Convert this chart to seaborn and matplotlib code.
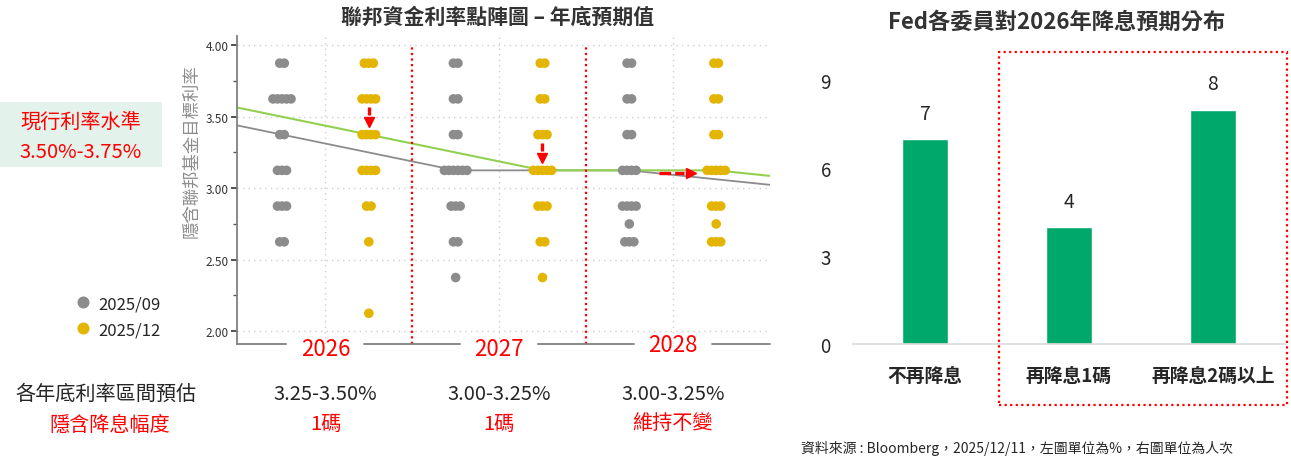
import matplotlib.pyplot as plt
import matplotlib.transforms as mtransforms
from matplotlib.patches import Rectangle
import numpy as np
import pandas as pd
import seaborn as sns

# ---- data -------------------------------------------------------------
RATES = [3.875, 3.625, 3.375, 3.125, 2.875, 2.75, 2.625, 2.375, 2.125]
YEARS = ["2026", "2027", "2028"]
RELEASES = ["2025/09", "2025/12"]

# dots per rate level (same order as RATES)
SEP_2026 = [2, 5, 2, 3, 3, 0, 2, 0, 0]
SEP_2027 = [2, 2, 2, 6, 3, 0, 2, 1, 0]
SEP_2028 = [2, 2, 2, 4, 4, 1, 3, 0, 0]
DEC_2026 = [3, 4, 4, 4, 2, 0, 1, 0, 1]
DEC_2027 = [2, 2, 3, 5, 3, 0, 2, 1, 0]
DEC_2028 = [2, 2, 2, 5, 3, 1, 3, 0, 0]

# medians: 2025, 2026, 2027, 2028, longer run
MEDIAN_PERIODS = ["2025", "2026", "2027", "2028", "長期"]
MEDIAN_SEP = [3.625, 3.375, 3.125, 3.125, 3.0]
MEDIAN_DEC = [3.625, 3.375, 3.125, 3.125, 3.0]

RANGE_LABELS = ["3.25-3.50%", "3.00-3.25%", "3.00-3.25%"]
CUT_LABELS = ["1碼", "1碼", "維持不變"]

CUT_CATEGORIES = ["不再降息", "再降息1碼", "再降息2碼以上"]
CUT_VOTES = [7, 4, 8]

GRAY = "#8c8c8c"
GOLD = "#e3b500"
LINE_GREEN = "#92d050"
BAR_GREEN = "#00a86b"
RED = "#ff0000"
DARK = "#262626"

sns.set_style("white")
plt.rcParams["font.family"] = ["Noto Sans CJK TC", "DejaVu Sans"]

# ---- build dot table ---------------------------------------------------
STEP = 0.052  # horizontal shift between stacked dots
rows = []
for r_i, (release, by_year) in enumerate(
        zip(RELEASES, [[SEP_2026, SEP_2027, SEP_2028],
                       [DEC_2026, DEC_2027, DEC_2028]])):
    for y_i, counts in enumerate(by_year):
        base = 2 * y_i + r_i
        for rate, n in zip(RATES, counts):
            for k in range(n):
                rows.append({"release": release,
                             "x": base + (k - (n - 1) / 2) * STEP,
                             "rate": rate})
dots = pd.DataFrame(rows)

fig = plt.figure(figsize=(12.91, 4.6), dpi=100)
W, H = 1291, 460
ax1 = fig.add_axes([237 / W, 1 - 345 / H, 533 / W, 308 / H])
ax2 = fig.add_axes([853 / W, 1 - 345 / H, 432 / W, 293 / H])

# ---- left: dot plot -----------------------------------------------------
med_x = np.arange(len(MEDIAN_PERIODS)) * 2 - 2
sns.lineplot(x=med_x, y=MEDIAN_SEP, color=GRAY, lw=1.3, ax=ax1, zorder=1)
sns.lineplot(x=med_x + 1, y=MEDIAN_DEC, color=LINE_GREEN, lw=1.5, ax=ax1, zorder=1)
sns.scatterplot(data=dots, x="x", y="rate", hue="release", palette=[GRAY, GOLD],
                s=48, linewidth=0, ax=ax1, zorder=3)

ax1.set_xlim(-0.518, 5.62)
ax1.set_ylim(1.91, 4.065)
ax1.set_yticks(np.arange(2.0, 4.01, 0.5))
ax1.set_yticks(np.arange(2.25, 4.0, 0.5), minor=True)
ax1.yaxis.set_major_formatter(plt.FormatStrFormatter("%.2f"))
ax1.set_xticks([0.5, 2.5, 4.5])
ax1.set_xticklabels([])
ax1.tick_params(axis="x", length=0)
ax1.tick_params(axis="y", which="major", length=4, width=1.2, color="#333333",
                labelsize=8.5, labelcolor="#333333", pad=2, left=True)
ax1.tick_params(axis="y", which="minor", length=3, width=1, color="#555555", left=True)
ax1.grid(True, which="major", linestyle=(0, (1, 3)), color="#cfcfcf", lw=1)
ax1.set_xlabel("")
ax1.set_ylabel("隱含聯邦基金目標利率", color=GRAY, fontsize=12.5)
ax1.yaxis.set_label_coords(-0.069, 0.63)
for side in ["top", "right", "bottom"]:
    ax1.spines[side].set_visible(False)
ax1.spines["left"].set_color("#808080")
ax1.spines["left"].set_linewidth(1.3)

# year separators
for xs in [1.5, 3.5]:
    ax1.vlines(xs, ax1.get_ylim()[0], 4.0, colors=RED, linestyles=(0, (1, 1.5)), lw=1.6, zorder=2)

# bottom axis line with gaps for year labels
blend = mtransforms.blended_transform_factory(ax1.transData, ax1.transAxes)
gap = 0.45
xl, xr = ax1.get_xlim()
year_pos = [0.5, 2.5, 4.5]
edges = [xl] + [p for c in year_pos for p in (c - gap, c + gap)] + [xr]
for a, b in zip(edges[::2], edges[1::2]):
    ax1.plot([a, b], [0, 0], color="#808080", lw=1.3, transform=blend, clip_on=False)
for c, yr, dy in zip(year_pos, YEARS, [-0.016, -0.016, -0.003]):
    ax1.text(c, dy, yr, transform=blend, color=RED, fontsize=16,
             ha="center", va="center")

# red arrows: median moves
for xc, target in [(1, MEDIAN_DEC[1]), (3, MEDIAN_DEC[2])]:
    ax1.plot([xc, xc], [target + 0.19, target + 0.135], color=RED, lw=2.4,
             solid_capstyle="butt", zorder=5)
    ax1.plot(xc, target + 0.085, marker="v", color=RED, markersize=7.5, zorder=5)
yh = MEDIAN_DEC[3] - 0.02
ax1.plot([4.345, 4.63], [yh, yh], color=RED, lw=2.4, linestyle=(0, (3.5, 1.2)),
         zorder=5)
ax1.plot(4.71, yh, marker=">", color=RED, markersize=7.5, zorder=5)

# legend at far left
sns.move_legend(ax1, loc="upper left", bbox_to_anchor=(58 / W, 1 - 281 / H),
                bbox_transform=fig.transFigure, frameon=False, title=None,
                fontsize=12, markerscale=1.25, labelspacing=0.55,
                handletextpad=0.3, handlelength=1.2)
for t in ax1.get_legend().get_texts():
    t.set_color(DARK)

fig.text(498 / W, 1 - 17 / H, "聯邦資金利率點陣圖 – 年底預期值", ha="center",
         va="center", fontsize=15, fontweight="bold", color="#333333")

# current rate box
fig.add_artist(Rectangle((0, 1 - 168 / H), 162 / W, 65 / H,
                         transform=fig.transFigure, facecolor="#e4f2ec",
                         edgecolor="none", zorder=0))
fig.text(81 / W, 1 - 122 / H, "現行利率水準", ha="center", va="center",
         fontsize=14.5, color=RED)
fig.text(81 / W, 1 - 152 / H, "3.50%-3.75%", ha="center", va="center",
         fontsize=14.5, color=RED)

# bottom table
tb = mtransforms.blended_transform_factory(ax1.transData, fig.transFigure)
fig.text(106 / W, 1 - 394 / H, "各年底利率區間預估", ha="center", va="center",
         fontsize=14.5, color=DARK, fontweight="medium")
fig.text(110 / W, 1 - 425 / H, "隱含降息幅度", ha="center", va="center",
         fontsize=14.5, color=RED)
for c, rng, cut in zip(year_pos, RANGE_LABELS, CUT_LABELS):
    ax1.text(c, 1 - 394 / H, rng, transform=tb, ha="center", va="center",
             fontsize=14.5, color=DARK, clip_on=False)
    ax1.text(c, 1 - 424 / H, cut, transform=tb, ha="center", va="center",
             fontsize=14.5, color=RED, clip_on=False)

# ---- right: bar chart ---------------------------------------------------
sns.barplot(x=CUT_CATEGORIES, y=CUT_VOTES, color=BAR_GREEN, width=0.32,
            saturation=1, ax=ax2)
ax2.bar_label(ax2.containers[0], padding=11, fontsize=14, color=DARK)
ax2.set_ylim(0, 10)
ax2.set_yticks([0, 3, 6, 9])
ax2.tick_params(axis="y", length=0, labelsize=13.5, labelcolor=DARK, pad=16)
ax2.tick_params(axis="x", length=0, labelsize=13.5, labelcolor=DARK, pad=16)
for lab in ax2.get_xticklabels():
    lab.set_fontweight("bold")
for side in ["top", "right", "left"]:
    ax2.spines[side].set_visible(False)
ax2.spines["bottom"].set_color("#d9d9d9")
ax2.spines["bottom"].set_linewidth(1.2)
ax2.set_xlim(-0.5, 2.5)

fig.text(1057 / W, 1 - 22 / H, "Fed各委員對2026年降息預期分布", ha="center",
         va="center", fontsize=16, fontweight="bold", color="#333333")

fig.add_artist(Rectangle((999 / W, 1 - 406 / H), 288 / W, 353 / H,
                         transform=fig.transFigure, facecolor="none",
                         edgecolor=RED, linestyle=(0, (1, 1.5)), lw=1.6))

fig.text(801 / W, 1 - 448 / H,
         "資料來源 : Bloomberg，2025/12/11，左圖單位為%，右圖單位為人次",
         ha="left", va="center", fontsize=10, color=DARK)

fig.savefig("out.png", dpi=100)
